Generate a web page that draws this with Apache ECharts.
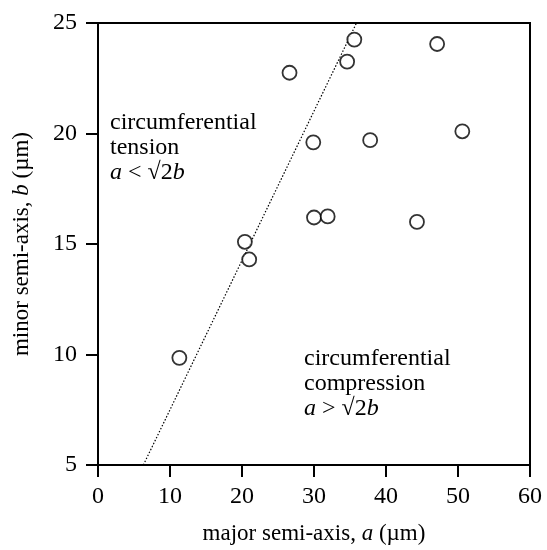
<!DOCTYPE html>
<html>
<head>
<meta charset="utf-8">
<script src="https://cdn.jsdelivr.net/npm/echarts@6/dist/echarts.min.js"></script>
<style>
	html, body { margin: 0; padding: 0; background: #fff; }
	#chart { width: 547px; height: 550px; }
</style>
</head>
<body>
<div id="chart"></div>
<script>
// measured ellipse semi-axes (um)
var majorAxis = [11.3, 20.4, 21.0, 26.6, 29.9, 30.0, 31.9, 34.6, 35.6, 37.8, 44.3, 47.1, 50.6];
var minorAxis = [9.85, 15.1, 14.3, 22.75, 19.6, 16.2, 16.25, 23.25, 24.25, 19.7, 16.0, 24.05, 20.1];

// boundary a = sqrt(2) b, as drawn
var boundaryA = [6.3, 35.9];
var boundaryB = [5, 25];

var xTicks = [0, 10, 20, 30, 40, 50, 60];
var yTicks = [5, 10, 15, 20, 25];

var serif = '"Liberation Serif", "DejaVu Serif", serif';

var points = majorAxis.map(function (a, i) { return [a, minorAxis[i]]; });
var boundary = boundaryA.map(function (a, i) { return [a, boundaryB[i]]; });

var chart = echarts.init(document.getElementById('chart'));

var axisCommon = {
	axisLine: { show: true, onZero: false, lineStyle: { color: '#000', width: 2 } },
	axisTick: { show: true, inside: false, length: 12, lineStyle: { color: '#000', width: 2 } },
	splitLine: { show: false },
	nameLocation: 'middle',
	nameTextStyle: {
		fontFamily: serif, fontSize: 23, color: '#000',
		rich: { i: { fontFamily: serif, fontSize: 23, fontStyle: 'italic', color: '#000' } }
	}
};

chart.setOption({
	backgroundColor: '#fff',
	animation: false,
	grid: {
		left: 98, right: 17, top: 23, bottom: 80,
		show: true, borderColor: '#000', borderWidth: 2, backgroundColor: 'transparent'
	},
	xAxis: Object.assign({}, axisCommon, {
		type: 'value',
		min: xTicks[0],
		max: xTicks[xTicks.length - 1],
		interval: 10,
		name: 'major semi-axis, {i|a} (\u00b5m)',
		nameGap: 57,
		axisLabel: { margin: 20, fontFamily: serif, fontSize: 24, color: '#000' }
	}),
	yAxis: Object.assign({}, axisCommon, {
		type: 'value',
		min: yTicks[0],
		max: yTicks[yTicks.length - 1],
		interval: 5,
		name: 'minor semi-axis, {i|b} (\u00b5m)',
		nameGap: 65,
		axisLabel: { margin: 21, fontFamily: serif, fontSize: 24, color: '#000' }
	}),
	series: [
		{
			type: 'line',
			data: boundary,
			symbol: 'none',
			lineStyle: { color: '#000', width: 1.2, type: [1.5, 1.8] },
			z: 1
		},
		{
			type: 'scatter',
			data: points,
			symbol: 'circle',
			symbolSize: 14,
			itemStyle: { color: '#fff', borderColor: '#000', borderWidth: 1.8 },
			z: 2
		}
	],
	graphic: [
		{
			type: 'text',
			left: 110,
			top: 110,
			style: {
				text: 'circumferential\ntension\n{i|a} < \u221a2{i|b}',
				font: '24px ' + serif,
				fill: '#000',
				lineHeight: 25,
				rich: { i: { fontStyle: 'italic', fontFamily: serif, fontSize: 24, lineHeight: 25 } }
			}
		},
		{
			type: 'text',
			left: 304,
			top: 346,
			style: {
				text: 'circumferential\ncompression\n{i|a} > \u221a2{i|b}',
				font: '24px ' + serif,
				fill: '#000',
				lineHeight: 25,
				rich: { i: { fontStyle: 'italic', fontFamily: serif, fontSize: 24, lineHeight: 25 } }
			}
		}
	]
});
</script>
</body>
</html>
